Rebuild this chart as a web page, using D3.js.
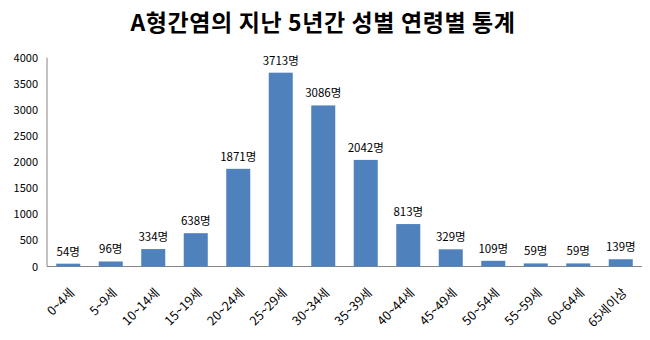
<!DOCTYPE html>
<html>
<head>
<meta charset="utf-8">
<script src="https://cdn.jsdelivr.net/npm/d3@7"></script>
<style>
  html, body { margin: 0; padding: 0; background: #fff; }
  svg { display: block; font-family: "Noto Sans CJK KR", "Noto Sans", sans-serif; }
</style>
</head>
<body>
<div id="chart"></div>
<script>
// Age groups and case counts over five years
const ageGroups = ["0~4세", "5~9세", "10~14세", "15~19세", "20~24세", "25~29세", "30~34세",
                   "35~39세", "40~44세", "45~49세", "50~54세", "55~59세", "60~64세", "65세이상"];
const cases = [54, 96, 334, 638, 1871, 3713, 3086, 2042, 813, 329, 109, 59, 59, 139];
const yTicks = [0, 500, 1000, 1500, 2000, 2500, 3000, 3500, 4000];
const title = "A형간염의 지난 5년간 성별 연령별 통계";
const unit = "명";

const W = 650, H = 340;
const svg = d3.select("#chart").append("svg").attr("width", W).attr("height", H);

const x = d3.scaleBand().domain(ageGroups).range([47, 642]).paddingInner(0.435).paddingOuter(0.2175);
const y = d3.scaleLinear().domain([0, 4000]).range([266.5, 57.7]);

// Title
svg.append("text")
  .attr("x", 323).attr("y", 31)
  .attr("text-anchor", "middle")
  .attr("font-size", 23).attr("font-weight", "bold")
  .attr("letter-spacing", 0.6)
  .attr("fill", "#000")
  .text(title);

// Y axis: labels only, with a plain grey axis line
const yAxis = svg.append("g")
  .attr("transform", "translate(47,0)")
  .call(d3.axisLeft(y).tickValues(yTicks).tickFormat(d3.format("d")).tickSize(0).tickPadding(9));
yAxis.select(".domain").attr("stroke", "#868686").attr("d", `M0,${y(4000)}V${y(0)}`);
yAxis.selectAll("text").attr("font-size", 11).attr("fill", "#000")
  .attr("font-family", "'Noto Sans CJK KR', sans-serif");

// X axis
const xAxis = svg.append("g")
  .attr("transform", `translate(0,${y(0)})`)
  .call(d3.axisBottom(x).tickSize(0).tickPadding(0));
xAxis.select(".domain").attr("stroke", "#868686").attr("d", "M47,0H642");
xAxis.selectAll("text")
  .attr("font-size", 12.5).attr("fill", "#000")
  .attr("text-anchor", "end")
  .attr("dy", 0)
  .attr("transform", "translate(7,27) rotate(-45)")
  .attr("font-family", "'Noto Sans CJK KR', sans-serif");

// Bars
svg.append("g").selectAll("rect")
  .data(cases)
  .join("rect")
  .attr("x", (d, i) => x(ageGroups[i]))
  .attr("width", x.bandwidth())
  .attr("y", d => y(d))
  .attr("height", d => y(0) - y(d))
  .attr("fill", "#4F81BD");

// Value labels
svg.append("g").selectAll("text")
  .data(cases)
  .join("text")
  .attr("x", (d, i) => x(ageGroups[i]) + x.bandwidth() / 2)
  .attr("y", d => y(d) - 8)
  .attr("text-anchor", "middle")
  .attr("font-size", 11.5)
  .attr("fill", "#000")
  .text(d => d + unit);
</script>
</body>
</html>
